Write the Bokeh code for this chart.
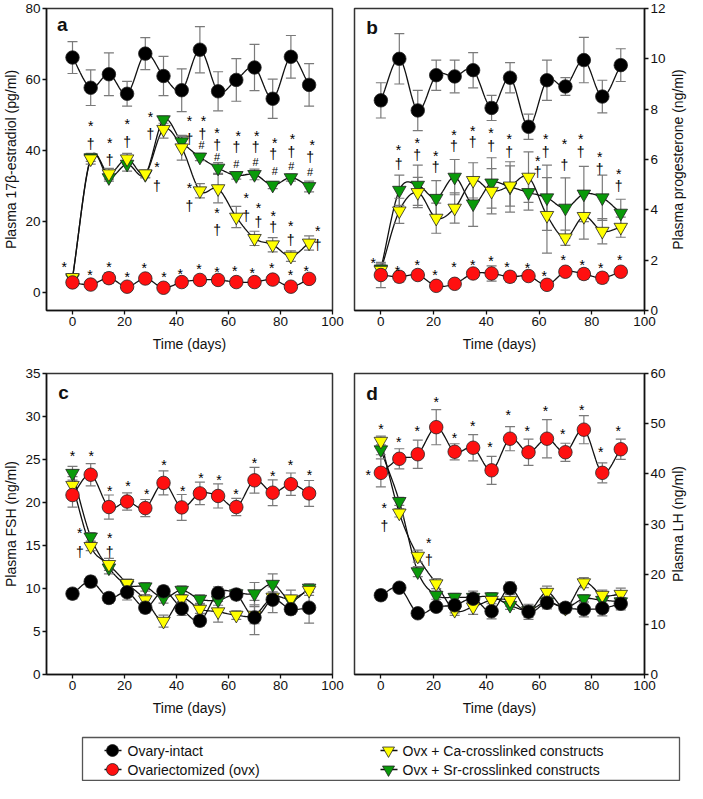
import math
import numpy as np
from bokeh.plotting import figure
from bokeh.models import FixedTicker, Label
from bokeh.layouts import column, row
from bokeh.embed import file_html
from bokeh.resources import INLINE
from bokeh.core.properties import value

FONT = "Liberation Sans"

days = [0, 7, 14, 21, 28, 35, 42, 49, 56, 63, 70, 77, 84, 91]
x_ticks = [0, 20, 40, 60, 80, 100]

# ---------------- panel a: 17beta-estradiol (pg/ml)
a_intact = [66.2, 57.7, 61.5, 56.0, 67.3, 61.0, 57.0, 68.4, 56.7, 59.9, 63.4, 54.6, 66.4, 58.5]
a_intact_err = [4.5, 5.0, 6.0, 3.5, 4.5, 5.5, 6.0, 6.5, 5.5, 6.0, 6.5, 5.5, 6.0, 6.0]
a_ovx = [2.9, 2.3, 4.1, 1.7, 4.0, 1.4, 3.0, 3.6, 3.6, 3.0, 3.0, 3.7, 1.7, 3.9]
a_ovx_err = [1.0, 0.8, 1.5, 0.8, 0.8, 0.8, 0.8, 0.8, 0.8, 0.8, 0.8, 1.2, 0.8, 0.8]
a_ca = [4.3, 37.7, 33.5, 37.7, 33.5, 46.0, 40.8, 28.7, 29.3, 21.3, 15.3, 13.5, 10.3, 14.0]
a_ca_err = [1.0, 1.5, 1.5, 1.5, 1.0, 2.5, 3.5, 2.0, 4.0, 3.0, 2.0, 2.0, 1.5, 2.0]
a_sr = [4.0, 38.0, 32.4, 36.2, 33.3, 48.7, 42.5, 38.2, 35.1, 33.0, 33.3, 30.3, 32.4, 29.9]
a_sr_err = [1.0, 1.0, 1.0, 2.0, 1.0, 1.0, 1.5, 1.0, 1.5, 1.0, 1.5, 1.0, 1.0, 1.5]
a_ann_x = [-3.2, 6.7, 14, 21, 27.6, 35.2, 41.4, 48.6, 55.6, 62.4, 69.1, 76.6, 83.8, 89.9,
           7, 7, 14.3, 14.3, 21, 21, 30, 30, 32.5, 32.5, 45, 45, 50.4, 50, 49.6,
           55.6, 55.6, 55.6, 63.7, 63, 63, 70.9, 70.4, 70.4, 77.8, 77.2, 77.8,
           84.6, 84.2, 84.2, 92.2, 91.4, 91.4,
           45, 45, 55.6, 55.6, 66.8, 66.8, 71.5, 71.5, 77.2, 77.2, 83.9, 83.9, 94.3, 94.3]
a_ann_y = [8.2, 5.9, 8, 5.2, 7.7, 5.2, 6.2, 7.4, 6.8, 7.1, 6.4, 7.7, 5.7, 7.1,
           47.8, 42, 42.9, 37.4, 48.2, 42.5, 50.3, 44.8, 36.2, 30, 49.2, 43.4, 49.2, 44.8, 41.6,
           45.9, 41.6, 38.1, 45, 41.1, 36.3, 45, 41.1, 36.7, 42.9, 39, 34.2,
           44.1, 39.7, 35.6, 42.3, 38.1, 34,
           30.3, 24.3, 23.4, 17.7, 27.5, 21.6, 24.6, 20, 22.4, 18.6, 19.7, 14.9, 18.1, 13.5]
a_ann_t = ["*"] * 14 + ["*", "†", "*", "†", "*", "†", "*", "†", "*", "†", "*", "†", "*", "†", "#",
                       "*", "†", "#", "*", "†", "#", "*", "†", "#", "*", "†", "#",
                       "*", "†", "#", "*", "†", "#"] + ["*", "†"] * 7

# ---------------- panel b: progesterone (ng/ml)
b_intact = [8.35, 10.0, 7.95, 9.35, 9.3, 9.55, 8.05, 9.25, 7.3, 9.15, 8.9, 9.95, 8.5, 9.75]
b_intact_err = [0.7, 1.0, 0.8, 0.6, 0.65, 0.7, 0.5, 0.6, 0.5, 0.8, 0.35, 0.9, 0.65, 0.65]
b_ovx = [1.41, 1.34, 1.41, 0.98, 1.06, 1.47, 1.47, 1.34, 1.37, 1.02, 1.54, 1.45, 1.3, 1.54]
b_ovx_err = [0.5, 0.2, 0.15, 0.1, 0.1, 0.15, 0.3, 0.2, 0.15, 0.1, 0.1, 0.2, 0.2, 0.1]
b_ca = [1.6, 3.96, 4.69, 3.67, 4.07, 5.17, 4.74, 4.95, 5.30, 3.78, 2.89, 3.74, 3.15, 3.31]
b_ca_err = [0.2, 0.5, 0.6, 0.6, 0.6, 0.7, 0.9, 0.8, 1.0, 1.5, 0.3, 0.9, 0.5, 0.4]
b_sr = [1.65, 4.78, 4.98, 4.46, 5.30, 4.24, 5.07, 4.91, 4.69, 4.48, 4.07, 4.63, 4.48, 3.87]
b_sr_err = [0.2, 0.6, 0.8, 0.7, 0.7, 0.9, 1.0, 1.0, 0.7, 1.3, 1.2, 1.1, 0.9, 0.55]
b_ann_x = [-2.9, 6.3, 13.8, 20.5, 27.7, 34.8, 41.8, 47.8, 55.6, 62, 69.2, 76.4, 83.4, 90.6,
           6.7, 6.7, 13.8, 13.8, 20.8, 20.8, 27.7, 27.7, 34.8, 34.8, 41.8, 41.8, 48.7, 48.7,
           59.5, 59.5, 62.5, 62.5, 69.6, 69.6, 75.8, 75.8, 83, 83, 90.2, 90.2]
b_ann_y = [2.0, 1.67, 1.93, 1.54, 1.86, 1.93, 2.1, 1.86, 1.8, 1.5, 2.12, 1.93, 1.8, 2.12,
           6.51, 5.81, 6.78, 6.16, 6.27, 5.71, 7.11, 6.55, 7.27, 6.68, 7.17, 6.55, 6.92, 6.29,
           6.06, 5.51, 6.92, 6.29, 6.75, 5.78, 6.92, 6.29, 6.23, 5.64, 5.54, 4.93]
b_ann_t = ["*"] * 14 + ["*", "†"] * 13

# ---------------- panel c: FSH (ng/ml)
c_intact = [9.4, 10.8, 8.9, 9.56, 7.77, 9.67, 7.66, 6.25, 9.48, 9.3, 6.63, 8.7, 7.6, 7.77]
c_intact_err = [0.6, 0.6, 0.6, 0.9, 0.6, 0.6, 0.8, 0.6, 0.7, 0.6, 2.0, 1.5, 0.6, 1.8]
c_ovx = [20.87, 23.23, 19.47, 20.11, 19.35, 22.28, 19.43, 21.06, 20.76, 19.47, 22.58, 21.14, 22.13, 21.06]
c_ovx_err = [1.4, 1.3, 1.4, 1.0, 1.0, 1.4, 1.5, 1.3, 1.4, 1.0, 1.5, 1.5, 1.3, 1.5]
c_ca = [22.0, 14.9, 12.8, 10.6, 8.7, 6.2, 8.8, 7.6, 7.3, 6.9, 6.9, 9.0, 8.8, 9.8]
c_ca_err = [1.0, 0.5, 0.7, 0.5, 0.6, 0.7, 0.5, 0.5, 1.2, 0.5, 1.0, 0.6, 1.0, 0.6]
c_sr = [23.4, 16.0, 12.4, 10.4, 10.2, 8.9, 9.8, 8.76, 8.65, 9.4, 9.4, 10.5, 8.6, 10.05]
c_sr_err = [0.8, 0.5, 0.7, 0.6, 0.5, 0.6, 0.5, 0.5, 0.6, 0.5, 1.3, 1.2, 0.6, 0.5]
c_ann_x = [0, 7.2, 14.3, 21.3, 28.5, 35.2, 42.4, 49.4, 56.3, 62.9, 70, 77, 83.8, 91.1,
           2.8, 2.8, 14.3, 14.3]
c_ann_y = [25.7, 25.7, 21.7, 22.3, 21.3, 24.7, 21.7, 23.2, 23.0, 21.3, 25.0, 23.4, 24.7, 23.6,
           16.8, 14.2, 16.2, 14.2]
c_ann_t = ["*"] * 14 + ["*", "†", "*", "†"]

# ---------------- panel d: LH (ng/ml)
d_intact = [15.8, 17.3, 12.2, 13.5, 13.8, 15.1, 12.6, 17.2, 12.5, 14.3, 13.3, 13.0, 13.2, 14.1]
d_intact_err = [1.0, 0.8, 0.8, 0.8, 1.5, 1.5, 1.5, 1.2, 1.5, 1.2, 1.0, 1.5, 1.5, 1.2]
d_ovx = [40.2, 43.0, 43.9, 49.3, 44.4, 45.2, 40.7, 47.0, 44.3, 47.0, 44.3, 48.8, 40.2, 44.9]
d_ovx_err = [2.8, 2.0, 2.8, 3.5, 1.6, 2.6, 2.8, 2.4, 2.6, 3.8, 1.8, 2.8, 2.0, 2.0]
d_ca = [46.5, 32.2, 23.6, 18.1, 12.8, 13.5, 14.8, 14.8, 12.6, 16.4, 13.2, 18.3, 15.8, 16.0]
d_ca_err = [1.0, 0.8, 1.2, 1.0, 1.0, 1.5, 1.5, 1.2, 1.2, 1.2, 0.8, 1.0, 1.0, 1.2]
d_sr = [44.8, 34.5, 20.5, 15.8, 15.4, 15.4, 15.5, 13.8, 12.8, 14.5, 13.3, 15.1, 14.8, 14.5]
d_sr_err = [1.0, 0.8, 1.0, 0.8, 0.8, 0.8, 0.8, 0.8, 0.8, 0.8, 0.8, 0.8, 0.8, 0.8]
d_ann_x = [-4.8, 0, 6.8, 13.8, 21, 27.9, 34.8, 41.4, 48.3, 55.5, 62.4, 69, 76.2, 83.4, 90,
           1.3, 1.3, 18.2, 18.2]
d_ann_y = [40.4, 49.6, 46.9, 49.1, 55, 47.8, 50.1, 45.9, 52.4, 49.1, 53.2, 48.6, 53.4, 44.9, 49.1,
           33.7, 29.6, 26.8, 22.8]
d_ann_t = ["*"] * 15 + ["*", "†", "*", "†"]

legend_labels = ["Ovary-intact", "Ovariectomized (ovx)",
                 "Ovx + Ca-crosslinked constructs", "Ovx + Sr-crosslinked constructs"]

# ---------------- styles
C_INTACT = "#000000"
C_OVX = "#ff1010"
C_CA = "#ffff00"
C_SR = "#0a9a0a"
ERR_COLOR = "#7a7a7a"


def smooth(xs, ys, n=14):
    xs = np.asarray(xs, float)
    ys = np.asarray(ys, float)
    px, py = [], []
    m = len(xs)
    for i in range(m - 1):
        x0 = xs[i - 1] if i > 0 else 2 * xs[i] - xs[i + 1]
        y0 = ys[i - 1] if i > 0 else 2 * ys[i] - ys[i + 1]
        x3 = xs[i + 2] if i + 2 < m else 2 * xs[i + 1] - xs[i]
        y3 = ys[i + 2] if i + 2 < m else 2 * ys[i + 1] - ys[i]
        x1, y1, x2, y2 = xs[i], ys[i], xs[i + 1], ys[i + 1]
        for t in np.linspace(0, 1, n, endpoint=(i == m - 2)):
            t2, t3 = t * t, t * t * t
            px.append(0.5 * (2 * x1 + (-x0 + x2) * t + (2 * x0 - 5 * x1 + 4 * x2 - x3) * t2
                             + (-x0 + 3 * x1 - 3 * x2 + x3) * t3))
            py.append(0.5 * (2 * y1 + (-y0 + y2) * t + (2 * y0 - 5 * y1 + 4 * y2 - y3) * t2
                             + (-y0 + 3 * y1 - 3 * y2 + y3) * t3))
    return px, py


def build(side, y_rng, y_ticks, y_label, letter, letter_xy, series, anns, frame_h, top_b, bot_b):
    if side == "left":
        w, bl, br = 350, 42, 18
    else:
        w, bl, br = 318, 4, 23
    p = figure(width=w, height=top_b + frame_h + bot_b, x_range=(-10, 100), y_range=y_rng,
               y_axis_location=side, toolbar_location=None, output_backend="svg",
               min_border_left=bl, min_border_right=br, min_border_top=top_b,
               min_border_bottom=bot_b)
    p.xgrid.visible = False
    p.ygrid.visible = False
    p.outline_line_color = "#333333"
    p.outline_line_width = 1.5
    p.background_fill_color = "white"
    p.border_fill_color = "white"
    p.xaxis.ticker = FixedTicker(ticks=x_ticks)
    p.yaxis.ticker = FixedTicker(ticks=y_ticks)
    for ax in (p.xaxis, p.yaxis):
        ax.axis_line_color = "#111111"
        ax.axis_line_width = 1.5
        ax.major_tick_line_color = "#111111"
        ax.major_tick_line_width = 1.3
        ax.major_tick_in = 0
        ax.major_tick_out = 4
        ax.minor_tick_line_color = None
        ax.major_label_text_font = FONT
        ax.major_label_text_font_size = "13.5px"
        ax.major_label_text_color = "#111111"
        ax.major_label_standoff = 2
        ax.axis_label_text_font = FONT
        ax.axis_label_text_font_size = "14px"
        ax.axis_label_text_font_style = "normal"
        ax.axis_label_text_color = "#111111"
    p.xaxis.axis_label = "Time (days)"
    p.xaxis.axis_label_standoff = 7
    if side == "left":
        p.yaxis.axis_label = y_label
        p.yaxis.axis_label_standoff = 3

    # lines
    for ys, err, col, mk in series:
        sx, sy = smooth(days, ys)
        p.line(sx, sy, line_color="#111111", line_width=1.3)
    # error bars
    for ys, err, col, mk in series:
        lo = [v - e for v, e in zip(ys, err)]
        hi = [v + e for v, e in zip(ys, err)]
        p.segment(x0=days, y0=lo, x1=days, y1=hi, line_color=ERR_COLOR, line_width=1.2)
        p.scatter(x=days + days, y=lo + hi, marker="dash", size=10,
                  line_color=ERR_COLOR, line_width=1.2)
    # markers
    for ys, err, col, mk in series:
        p.scatter(x=days, y=ys, marker=mk, size=13.5, fill_color=col,
                  line_color="#222222", line_width=0.8)
    ax_, ay_, at_ = anns
    offs = [3 if t == "*" else 0 for t in at_]
    sizes = ["11px" if t == "#" else "14px" for t in at_]
    p.text(x=ax_, y=ay_, text=at_, y_offset=offs, text_font=value(FONT),
           text_font_size=sizes, text_align="center", text_baseline="middle",
           text_color="#000000")
    p.add_layout(Label(x=letter_xy[0], y=letter_xy[1], text=letter, text_font=FONT,
                       text_font_style="bold", text_font_size="19px",
                       text_baseline="middle", text_align="left", text_color="#111111"))
    return p


def side_title(text, frame_h, top_b, bot_b):
    # narrow strip carrying a right-hand axis title that reads bottom-to-top
    s = figure(width=19, height=top_b + frame_h + bot_b, x_range=(0, 1), y_range=(0, 1),
               x_axis_type=None, y_axis_type=None, toolbar_location=None, output_backend="svg",
               min_border_left=0, min_border_right=0, min_border_top=top_b,
               min_border_bottom=bot_b)
    s.outline_line_color = None
    s.xgrid.visible = False
    s.ygrid.visible = False
    s.text(x=[0.5], y=[0.5], text=[text], angle=math.pi / 2, text_font=value(FONT),
           text_font_size="14px", text_align="center", text_baseline="middle",
           text_color="#111111")
    return s


def series_list(intact, ie, ovx, oe, sr, se, ca, ce):
    return [(sr, se, C_SR, "inverted_triangle"),
            (ca, ce, C_CA, "inverted_triangle"),
            (ovx, oe, C_OVX, "circle"),
            (intact, ie, C_INTACT, "circle")]


pa = build("left", (-5, 80), [0, 20, 40, 60, 80], "Plasma 17β-estradiol (pg/ml)", "a", (-6, 75.5),
           series_list(a_intact, a_intact_err, a_ovx, a_ovx_err, a_sr, a_sr_err, a_ca, a_ca_err),
           (a_ann_x, a_ann_y, a_ann_t), 302, 8, 55)
pb = build("right", (0, 12), [0, 2, 4, 6, 8, 10, 12], "Plasma progesterone (ng/ml)", "b", (-5.5, 11.25),
           series_list(b_intact, b_intact_err, b_ovx, b_ovx_err, b_sr, b_sr_err, b_ca, b_ca_err),
           (b_ann_x, b_ann_y, b_ann_t), 302, 8, 55)
sb = side_title("Plasma progesterone (ng/ml)", 302, 8, 55)
pc = build("left", (0, 35), [0, 5, 10, 15, 20, 25, 30, 35], "Plasma FSH (ng/ml)", "c", (-5.5, 32.8),
           series_list(c_intact, c_intact_err, c_ovx, c_ovx_err, c_sr, c_sr_err, c_ca, c_ca_err),
           (c_ann_x, c_ann_y, c_ann_t), 301, 8, 62)
pd_ = build("right", (0, 60), [0, 10, 20, 30, 40, 50, 60], "Plasma LH (ng/ml)", "d", (-5.5, 56),
            series_list(d_intact, d_intact_err, d_ovx, d_ovx_err, d_sr, d_sr_err, d_ca, d_ca_err),
            (d_ann_x, d_ann_y, d_ann_t), 301, 8, 62)
sd = side_title("Plasma LH (ng/ml)", 301, 8, 62)

# ---------------- legend
lg = figure(width=687, height=45, x_range=(0, 597), y_range=(0, 43), x_axis_type=None,
            y_axis_type=None, toolbar_location=None, output_backend="svg",
            min_border_left=82, min_border_right=8, min_border_top=1, min_border_bottom=1)
lg.xgrid.visible = False
lg.ygrid.visible = False
lg.outline_line_color = "#555555"
lg.outline_line_width = 1.3
leg_cols = [C_INTACT, C_OVX, C_CA, C_SR]
leg_marks = ["circle", "circle", "inverted_triangle", "inverted_triangle"]
sym_x = [30, 30, 306, 306]
txt_x = [45, 45, 320, 320]
row_y = [30, 11, 30, 11]
lg.segment(x0=[s - 8 for s in sym_x], y0=row_y, x1=[s + 9 for s in sym_x], y1=row_y,
           line_color="#111111", line_width=1.3)
lg.scatter(x=sym_x, y=row_y, marker=leg_marks, size=12, fill_color=leg_cols,
           line_color="#222222", line_width=0.8)
lg.text(x=txt_x, y=row_y, text=legend_labels, text_font=value(FONT), text_font_size="14px",
        text_baseline="middle", text_align="left", text_color="#111111")

layout = column(row(pa, pb, sb), row(pc, pd_, sd), lg)
open("out.html", "w").write(file_html(layout, INLINE))
